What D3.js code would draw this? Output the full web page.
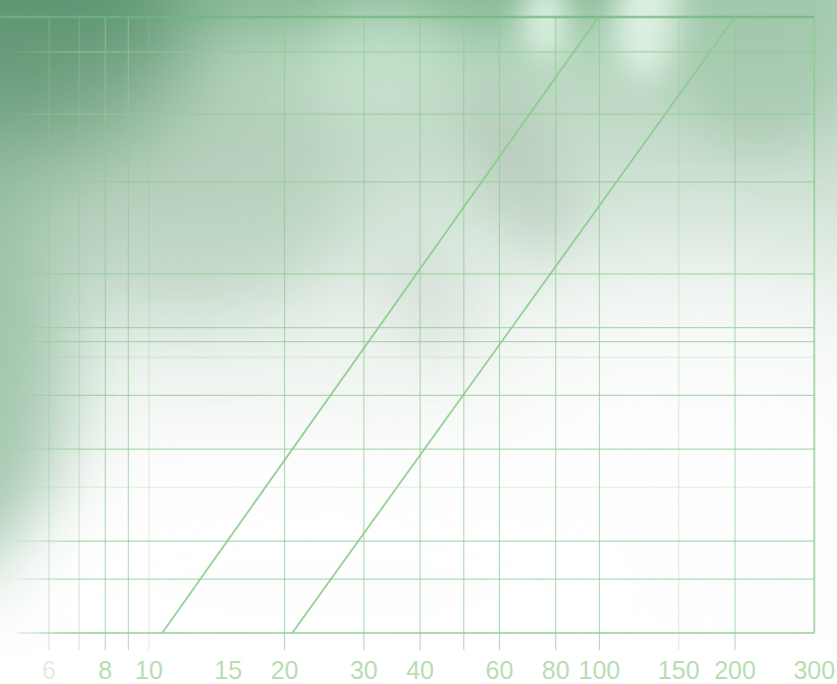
<!DOCTYPE html>
<html>
<head>
<meta charset="utf-8">
<script src="https://cdn.jsdelivr.net/npm/d3@7"></script>
<style>
  html, body { margin: 0; padding: 0; background: #ffffff; }
  svg { display: block; }
</style>
</head>
<body>
<svg id="chart" width="837" height="684"></svg>
<script>
// ---- data ----
const xTickLabels = [6, 8, 10, 15, 20, 30, 40, 60, 80, 100, 150, 200, 300];
const xGridMajor = [6, 7, 8, 9, 20, 30, 40, 50, 60, 80, 100, 200];
const xGridFaint = [10, 150];
const xMin = 5.1, xMax = 300;
const yMin = 1, yMax = 104;
const yGridMajor = [1.5, 2, 4, 6, 9, 10, 15, 30, 50, 80];
const yGridFaint = [3, 8];
const seriesA = [{x: 10.7, y: 1}, {x: 99.5, y: 104}];
const seriesB = [{x: 20.8, y: 1}, {x: 200, y: 104}];

const W = 837, H = 684;
const svg = d3.select("#chart");
const defs = svg.append("defs");

// scales
const x = d3.scaleLog().domain([6, 200]).range([49, 735]);
const y = d3.scaleLog().domain([yMin, yMax]).range([633, 17]);

// ---- background ----
const bgGrad = defs.append("linearGradient").attr("id", "bgv")
  .attr("x1", 0).attr("y1", 0).attr("x2", 0).attr("y2", 1);
bgGrad.append("stop").attr("offset", 0).attr("stop-color", "#a9d0b4");
bgGrad.append("stop").attr("offset", 0.22).attr("stop-color", "#c8ddcd");
bgGrad.append("stop").attr("offset", 0.45).attr("stop-color", "#e8f0ea");
bgGrad.append("stop").attr("offset", 0.68).attr("stop-color", "#fbfcfb");
bgGrad.append("stop").attr("offset", 1).attr("stop-color", "#ffffff");
svg.append("rect").attr("width", W).attr("height", H).attr("fill", "url(#bgv)");

function blur(id, sd) {
  defs.append("filter").attr("id", id)
    .attr("x", "-100%").attr("y", "-100%").attr("width", "300%").attr("height", "300%")
    .append("feGaussianBlur").attr("stdDeviation", sd);
}
blur("b15", 15); blur("b25", 25); blur("b40", 40); blur("b60", 60);

const blobs = [
  {cx: 300, cy: -15, rx: 380, ry: 50, fill: "#76ad87", op: 0.6, f: "b25", rot: 0},
  {cx: 0, cy: 40, rx: 190, ry: 140, fill: "#558d6b", op: 0.8, f: "b40", rot: 0},
  {cx: -20, cy: 340, rx: 90, ry: 240, fill: "#86b695", op: 0.75, f: "b40", rot: 0},
  {cx: 180, cy: 190, rx: 170, ry: 130, fill: "#a2c3aa", op: 0.5, f: "b40", rot: 0},
  {cx: 380, cy: 60, rx: 70, ry: 60, fill: "#cfe9d6", op: 0.5, f: "b25", rot: 0},
  {cx: 520, cy: 170, rx: 40, ry: 90, fill: "#a3b8a8", op: 0.4, f: "b25", rot: -25},
  {cx: 430, cy: 300, rx: 40, ry: 60, fill: "#b7c6bb", op: 0.3, f: "b25", rot: -25},
  {cx: 545, cy: 20, rx: 22, ry: 40, fill: "#e4f7e9", op: 0.9, f: "b15", rot: 0},
  {cx: 650, cy: 20, rx: 35, ry: 60, fill: "#e6f6ea", op: 0.9, f: "b15", rot: 0},
  {cx: 760, cy: 50, rx: 90, ry: 100, fill: "#98bfa3", op: 0.5, f: "b25", rot: 0},
  {cx: 700, cy: 430, rx: 220, ry: 150, fill: "#ffffff", op: 0.7, f: "b60", rot: 0},
  {cx: 330, cy: 590, rx: 320, ry: 120, fill: "#ffffff", op: 0.85, f: "b40", rot: 0}
];
svg.append("g").selectAll("ellipse").data(blobs).join("ellipse")
  .attr("cx", d => d.cx).attr("cy", d => d.cy)
  .attr("rx", d => d.rx).attr("ry", d => d.ry)
  .attr("transform", d => `rotate(${d.rot},${d.cx},${d.cy})`)
  .attr("fill", d => d.fill).attr("opacity", d => d.op)
  .attr("filter", d => `url(#${d.f})`);

// horizontal fade for grid lines at the left edge
const hFade = defs.append("linearGradient").attr("id", "hfade")
  .attr("gradientUnits", "userSpaceOnUse")
  .attr("x1", 0).attr("y1", 0).attr("x2", 70).attr("y2", 0);
hFade.append("stop").attr("offset", 0).attr("stop-color", "#8fcb91").attr("stop-opacity", 0);
hFade.append("stop").attr("offset", 1).attr("stop-color", "#8fcb91").attr("stop-opacity", 0.7);

const grid = svg.append("g");
const gx0 = x(xMin), gx1 = x(xMax);
const tickBottom = 650;

// horizontal grid
grid.selectAll("line.hmaj").data(yGridMajor).join("line").attr("class", "hmaj")
  .attr("x1", gx0).attr("x2", gx1).attr("y1", d => y(d)).attr("y2", d => y(d))
  .attr("stroke", "url(#hfade)").attr("stroke-width", 1.2);
grid.selectAll("line.hmin").data(yGridFaint).join("line").attr("class", "hmin")
  .attr("x1", gx0).attr("x2", gx1).attr("y1", d => y(d)).attr("y2", d => y(d))
  .attr("stroke", "url(#hfade)").attr("stroke-width", 1.1).attr("opacity", 0.4);

// vertical grid
grid.selectAll("line.vmaj").data(xGridMajor).join("line").attr("class", "vmaj")
  .attr("x1", d => x(d)).attr("x2", d => x(d)).attr("y1", y(yMax)).attr("y2", tickBottom)
  .attr("stroke", "#8fcb91").attr("stroke-opacity", d => d < 8 ? 0.4 : 0.7).attr("stroke-width", 1.1);
grid.selectAll("line.vmin").data(xGridFaint).join("line").attr("class", "vmin")
  .attr("x1", d => x(d)).attr("x2", d => x(d)).attr("y1", y(yMax)).attr("y2", tickBottom)
  .attr("stroke", "#8fcb91").attr("stroke-opacity", 0.3).attr("stroke-width", 1.1);

// frame
grid.append("line").attr("x1", gx0).attr("x2", gx1).attr("y1", y(yMin)).attr("y2", y(yMin))
  .attr("stroke", "url(#hfade)").attr("stroke-width", 2);
grid.append("line").attr("x1", gx1).attr("x2", gx1).attr("y1", y(yMax)).attr("y2", y(yMin))
  .attr("stroke", "#8fcb91").attr("stroke-opacity", 0.8).attr("stroke-width", 1.8);
grid.append("line").attr("x1", 0).attr("x2", gx1).attr("y1", y(yMax)).attr("y2", y(yMax))
  .attr("stroke", "#72b580").attr("stroke-opacity", 0.75).attr("stroke-width", 2.6);

// diagonal series
const line = d3.line().x(d => x(d.x)).y(d => y(d.y));
svg.append("g").selectAll("path").data([seriesA, seriesB]).join("path")
  .attr("d", line).attr("fill", "none")
  .attr("stroke", "#8acb8b").attr("stroke-width", 1.8).attr("stroke-opacity", 0.9);

// tick labels
svg.append("g").selectAll("text").data(xTickLabels).join("text")
  .attr("x", d => x(d)).attr("y", 679)
  .attr("text-anchor", "middle")
  .attr("font-family", "'Liberation Sans', Arial, sans-serif")
  .attr("font-size", 25)
  .attr("fill", "#b8ddb3")
  .attr("fill-opacity", d => d === 6 ? 0.45 : 1)
  .text(d => d);
</script>
</body>
</html>
